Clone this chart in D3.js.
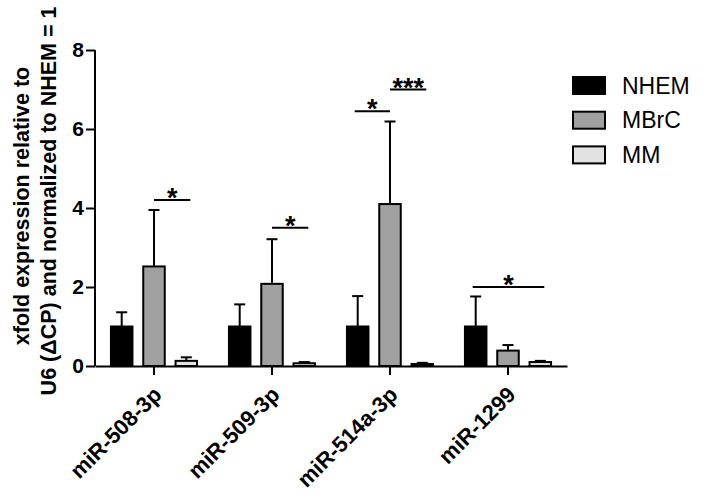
<!DOCTYPE html>
<html><head><meta charset="utf-8">
<script src="https://cdn.jsdelivr.net/npm/d3@7"></script>
<style>body{margin:0;background:#fff}svg{display:block}</style>
</head><body>
<svg id="c" width="703" height="501"></svg>
<script>
const categories = ["miR-508-3p","miR-509-3p","miR-514a-3p","miR-1299"];
const seriesNames = ["NHEM","MBrC","MM"];
const seriesColors = ["#000000","#a0a0a0","#e2e2e2"];
const NHEM = [1.0, 1.0, 1.0, 1.0];
const NHEM_err = [0.36, 0.56, 0.77, 0.76];
const MBrC = [2.52, 2.08, 4.1, 0.39];
const MBrC_err = [1.43, 1.13, 2.09, 0.14];
const MM = [0.13, 0.07, 0.05, 0.1];
const MM_err = [0.09, 0.03, 0.03, 0.03];
const yTicks = [0,2,4,6,8];
// significance: [category index, from series, to series, label, height]
const sig = [[0,1,2,"*",4.2],[1,1,2,"*",3.5],[2,0,1,"*",6.45],[2,1,2,"***",7.0],[3,0,2,"*",2.0]];

const values = [NHEM, MBrC, MM];
const errs = [NHEM_err, MBrC_err, MM_err];

const svg = d3.select("#c");
const font = "'Liberation Sans', Arial, sans-serif";
const x0 = 95, x1 = 567, yTop = 50, yBot = 366;
const x = d3.scaleBand().domain(categories).range([x0, x1]).paddingInner(0).paddingOuter(0);
const y = d3.scaleLinear().domain([0,8]).range([yBot, yTop]);
const off = 32.3, bw = 21.5;
const sx = (ci, si) => x(categories[ci]) + x.bandwidth()/2 + (si-1)*off;

// bars
seriesNames.forEach((s, si) => {
  const g = svg.append("g");
  categories.forEach((c, ci) => {
    const v = values[si][ci], e = errs[si][ci];
    const cx = sx(ci, si);
    g.append("line").attr("x1", cx).attr("x2", cx).attr("y1", y(v)).attr("y2", y(v+e))
      .attr("stroke","#000").attr("stroke-width",2);
    g.append("line").attr("x1", cx-5.5).attr("x2", cx+5.5).attr("y1", y(v+e)).attr("y2", y(v+e))
      .attr("stroke","#000").attr("stroke-width",2);
    g.append("rect").attr("x", cx-bw/2).attr("y", y(v)).attr("width", bw).attr("height", y(0)-y(v))
      .attr("fill", seriesColors[si]).attr("stroke","#000").attr("stroke-width",2);
  });
});

// y axis
const ya = svg.append("g").attr("transform", `translate(${x0},0)`)
  .call(d3.axisLeft(y).tickValues(yTicks).tickSize(9).tickPadding(2));
ya.select(".domain").attr("stroke-width",2).attr("d", `M-0,${yTop}V${yBot}`);
ya.selectAll(".tick line").attr("stroke-width",2);
ya.selectAll(".tick text").attr("font-family",font).attr("font-weight","bold").attr("font-size",21).attr("fill","#000");

// x axis
const xa = svg.append("g").attr("transform", `translate(0,${yBot})`)
  .call(d3.axisBottom(x).tickSize(9).tickSizeOuter(0).tickFormat(""));
xa.select(".domain").attr("stroke-width",2);
xa.selectAll(".tick line").attr("stroke-width",2);
categories.forEach(c => {
  const tx = x(c) + x.bandwidth()/2 + 9, ty = yBot + 30;
  svg.append("text").attr("transform", `translate(${tx},${ty}) rotate(-45)`)
    .attr("text-anchor","end")
    .attr("font-family",font).attr("font-weight","bold").attr("font-size",22).text(c);
});

// significance
sig.forEach(([ci, a, b, lab, h]) => {
  let xa_ = sx(ci, a) - (a===0?3:0), xb_ = sx(ci, b) + (b===2?4:0);
  const yy = y(h);
  svg.append("line").attr("x1", xa_).attr("x2", xb_).attr("y1", yy).attr("y2", yy)
    .attr("stroke","#000").attr("stroke-width",2);
  svg.append("text").attr("x",(xa_+xb_)/2).attr("y", yy+7).attr("text-anchor","middle")
    .attr("font-family",font).attr("font-weight","bold").attr("font-size",27).text(lab);
});

// y label
const yl = svg.append("text").attr("transform","translate(0,205) rotate(-90)")
  .attr("text-anchor","middle").attr("font-family",font).attr("font-weight","bold").attr("font-size",21.5);
yl.append("tspan").attr("x",-1).attr("y",28.5).text("xfold expression relative to");
yl.append("tspan").attr("x",4).attr("y",56).text("U6 (\u0394CP) and normalized to NHEM = 1");

// legend
seriesNames.forEach((s, i) => {
  const ly = 77 + i*34.7;
  svg.append("rect").attr("x",573).attr("y",ly).attr("width",32).attr("height",17)
    .attr("fill",seriesColors[i]).attr("stroke","#000").attr("stroke-width",2);
  svg.append("text").attr("x",622).attr("y",ly+16.5).attr("font-family",font).attr("font-size",23).text(s);
});
</script>
</body></html>
